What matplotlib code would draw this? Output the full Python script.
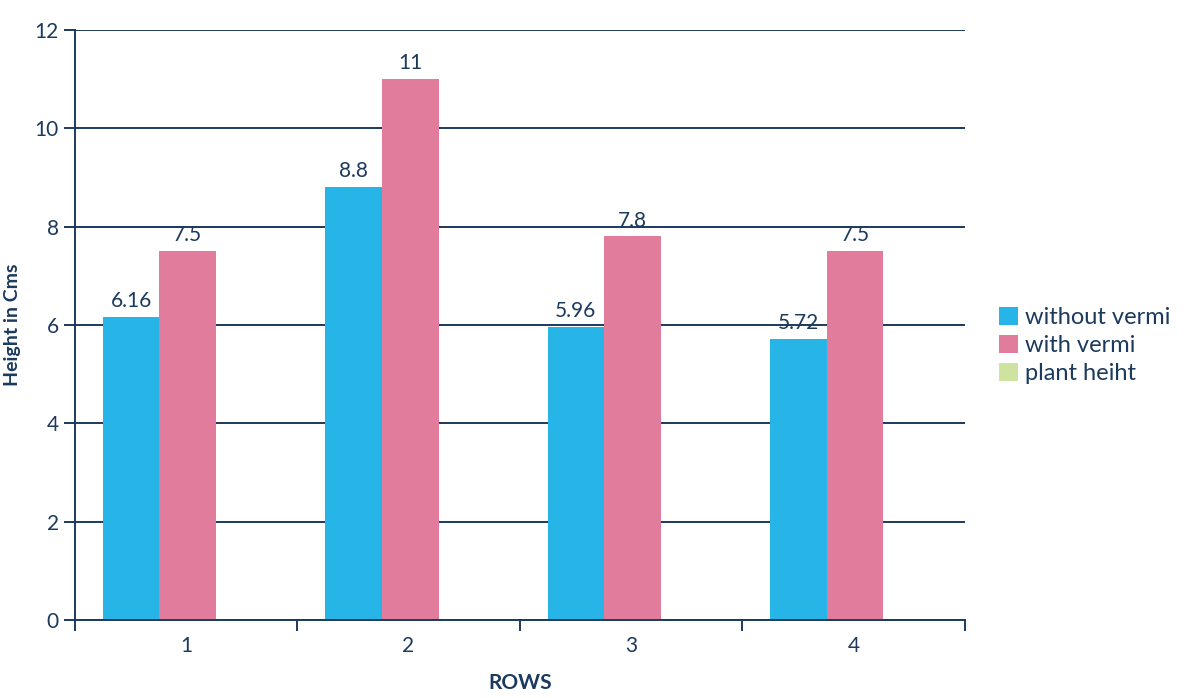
import matplotlib
matplotlib.use("Agg")
import matplotlib.pyplot as plt
import numpy as np
from matplotlib.patches import Patch

categories = ["1", "2", "3", "4"]
without_vermi = [6.16, 8.8, 5.96, 5.72]
with_vermi = [7.5, 11, 7.8, 7.5]
series_names = ["without vermi", "with vermi", "plant heiht"]
colors = ["#27b4e6", "#e27c9c", "#cfe3a0"]
navy = "#1b3a5e"

plt.rcParams['font.family'] = ['Lato', 'DejaVu Sans']

fig = plt.figure(figsize=(11.88, 6.98), dpi=100)
ax = fig.add_axes([0.063, 0.112, 0.749, 0.845])

x = np.arange(len(categories))
w = 0.255
shift = -0.12
b1 = ax.bar(x + shift - w/2, without_vermi, w, color=colors[0])
b2 = ax.bar(x + shift + w/2, with_vermi, w, color=colors[1])
for bars, vals in ((b1, without_vermi), (b2, with_vermi)):
    for r, v in zip(bars, vals):
        ax.text(r.get_x() + r.get_width()/2, v + 0.12, f"{v:g}", ha="center", va="bottom",
                fontsize=15, color=navy)

ax.set_xlim(-0.5, len(categories) - 0.5)
ax.set_ylim(0, 12)
ax.set_yticks(np.arange(0, 13, 2))
ax.yaxis.grid(True, color=navy, linewidth=1.4)
ax.set_axisbelow(True)
ax.set_xticks(np.arange(-0.5, len(categories), 1))
ax.set_xticklabels([])
ax.set_xticks(x, minor=True)
ax.set_xticklabels(categories, minor=True)
ax.tick_params(axis="x", which="minor", length=0, pad=12, labelsize=15, labelcolor=navy)
ax.tick_params(axis="x", which="major", length=8, color=navy, width=1.4)
ax.tick_params(axis="y", length=8, color=navy, width=1.4, labelsize=15, labelcolor=navy)
for s in ("top", "right"):
    ax.spines[s].set_visible(False)
for s in ("left", "bottom"):
    ax.spines[s].set_color(navy)
    ax.spines[s].set_linewidth(1.4)

ax.set_ylabel("Height in Cms", fontsize=14, fontweight="bold", color=navy, labelpad=10)
ax.set_xlabel("ROWS", fontsize=15, fontweight="bold", color=navy, labelpad=12)

handles = [Patch(facecolor=c) for c in colors]
fig.legend(handles, series_names, loc="center left", bbox_to_anchor=(0.827, 0.505),
           frameon=False, fontsize=17, labelcolor=navy, handlelength=0.8, handleheight=0.8,
           handletextpad=0.3, labelspacing=0.3, borderpad=0.2)

fig.savefig("out.png", dpi=100)
